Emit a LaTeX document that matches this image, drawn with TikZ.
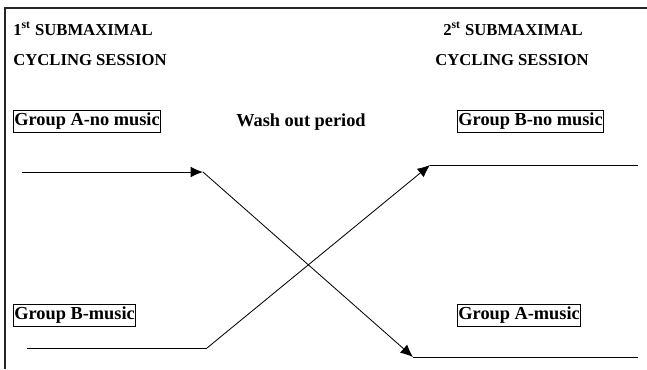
\documentclass[tikz,border=0pt]{standalone}
\usepackage{fontspec}
\setmainfont{Liberation Serif}
\usetikzlibrary{arrows.meta}

\begin{document}
\begin{tikzpicture}[x=0.6pt, y=-0.6pt,
    head/.style={font=\bfseries\fontsize{10}{12}\selectfont, anchor=base west, inner sep=0pt},
    grp/.style={draw, line width=0.5pt, anchor=west, font=\bfseries\fontsize{11}{13}\selectfont, inner xsep=0.6pt, inner ysep=1.6pt},
    flow/.style={line width=0.6pt, -{Latex[length=7.5pt, width=6.5pt]}}]
        \useasboundingbox (0,0) rectangle (647,369);
        % Frame
        \draw[line width=0.9pt, black!85] (5,369) -- (5,8) -- (647,8);
        % Session headings
        \node[head] (sess1) at (13,35) {1\textsuperscript{st} SUBMAXIMAL};
        \node[head] (cyc1) at (13,65) {CYCLING SESSION};
        \node[head, anchor=base] (sess2) at (513,35) {2\textsuperscript{st} SUBMAXIMAL};
        \node[head, anchor=base] (cyc2) at (512,65) {CYCLING SESSION};
        % Groups
        \node[grp] (aNo) at (13,121.5) {Group A-no music};
        \node[grp] (bNo) at (457,121.5) {Group B-no music};
        \node[grp] (bMus) at (13,315) {Group B-music};
        \node[grp] (aMus) at (457,315) {Group A-music};
        \node[font=\bfseries\fontsize{11}{13}\selectfont] (wash) at (301,122) {Wash out period};
        % Crossover paths
        \coordinate (aStart) at (22,172);
        \coordinate (aMid) at (203,172);
        \coordinate (aEnd) at (413,357);
        \coordinate (aFin) at (638,357);
        \coordinate (bStart) at (27,348);
        \coordinate (bMid) at (207,348);
        \coordinate (bEnd) at (430,165);
        \coordinate (bFin) at (638,165);
        \draw[flow] (aStart) -- (aMid);
        \draw[flow, line width=0.5pt] (aMid) -- (aEnd);
        \draw[line width=0.6pt] (aEnd) -- (aFin);
        \draw[line width=0.6pt] (bStart) -- (bMid);
        \draw[flow, line width=0.5pt] (bMid) -- (bEnd);
        \draw[line width=0.6pt] (bEnd) -- (bFin);
      \end{tikzpicture}
\end{document}
